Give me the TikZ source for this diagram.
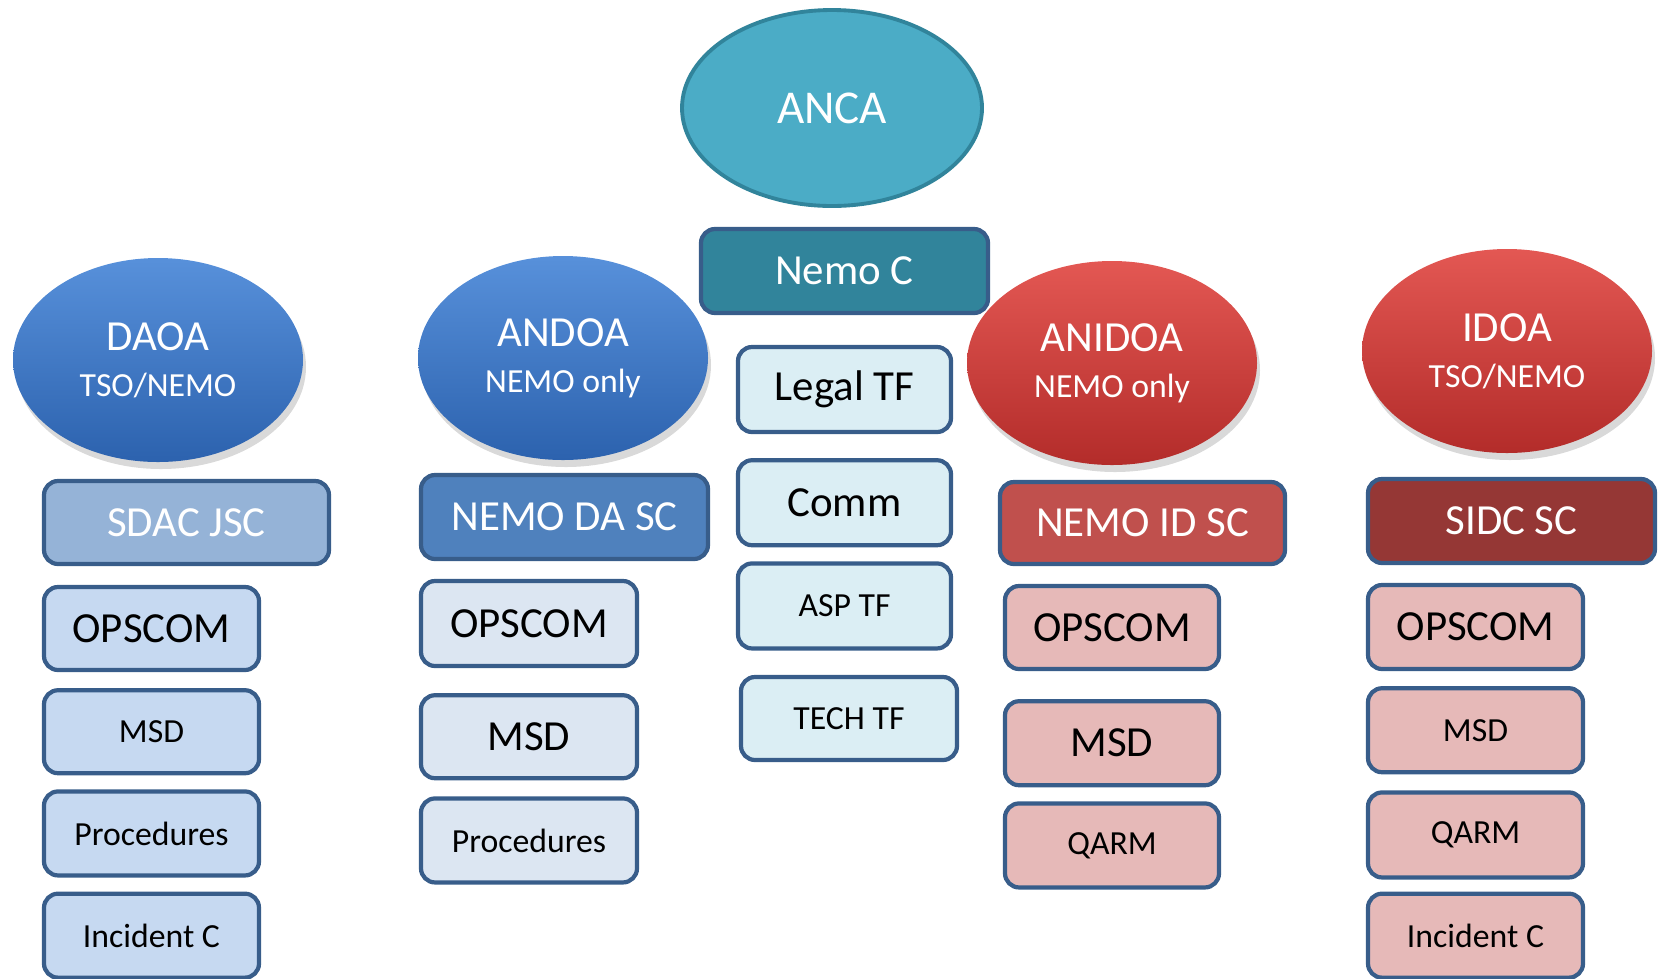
\documentclass[tikz,border=0pt]{standalone}
\usepackage{fontspec}
\setmainfont{Carlito}
\usepackage{tikz}
\usetikzlibrary{shapes.geometric,positioning,shadows}

\definecolor{ancafill}{HTML}{4BACC6}
\definecolor{ancaline}{HTML}{31849B}
\definecolor{frameblue}{HTML}{385D8A}
\definecolor{blueoval}{HTML}{3A7DD4}
\definecolor{bluedark}{HTML}{2C62AE}
\definecolor{redoval}{HTML}{E04540}
\definecolor{reddark}{HTML}{B32C2A}
\definecolor{sdacfill}{HTML}{95B3D7}
\definecolor{ndafill}{HTML}{4F81BD}
\definecolor{nidfill}{HTML}{C0504D}
\definecolor{sidcfill}{HTML}{953735}
\definecolor{daofill}{HTML}{C6D9F1}
\definecolor{andfill}{HTML}{DCE6F2}
\definecolor{tffill}{HTML}{DBEEF4}
\definecolor{idfill}{HTML}{E6B9B8}

\begin{document}
\begin{tikzpicture}[
    bigtxt/.style={font=\fontsize{12.2}{14}\selectfont},
    smalltxt/.style={font=\fontsize{9.6}{11.5}\selectfont},
    areaoval/.style={ellipse, minimum width=2.90cm, minimum height=2.04cm, align=center, text=white, inner sep=0pt,
        drop shadow={shadow xshift=0.3mm, shadow yshift=-0.7mm, opacity=0.3}, font=\fontsize{12.2}{14}\selectfont},
    blueoval/.style={areaoval, top color=blueoval!85!white, bottom color=bluedark},
    redoval/.style={areaoval, top color=redoval!90!white, bottom color=reddark},
    scbox/.style={draw=frameblue, rounded corners=4pt, line width=1.2pt, minimum width=2.87cm, minimum height=0.84cm, text=white, bigtxt},
    itembox/.style={draw=frameblue, rounded corners=4pt, line width=1.2pt, minimum width=2.16cm, minimum height=0.84cm, text=black}
]
\useasboundingbox (0,0) rectangle (16.6,-9.78);

% ANCA and Nemo C
\node[ellipse, draw=ancaline, line width=1.1pt, fill=ancafill, minimum width=3.00cm, minimum height=1.96cm, text=white, font=\fontsize{13.4}{15}\selectfont] (anca) at (8.32,-1.08) {ANCA};
\node[scbox, fill=ancaline] (nemoc) at (8.445,-2.71) {Nemo C};
\node[itembox, fill=tffill, minimum width=2.13cm, minimum height=0.85cm, bigtxt] (legal) at (8.445,-3.895) {Legal TF};
\node[itembox, fill=tffill, minimum width=2.13cm, minimum height=0.85cm, bigtxt, below=0.24cm of legal] (comm) {Comm};
\node[itembox, fill=tffill, minimum width=2.13cm, minimum height=0.85cm, smalltxt, below=0.14cm of comm] (asp) {ASP TF};
\node[itembox, fill=tffill, minimum height=0.83cm, smalltxt] (tech) at (8.49,-7.185) {TECH TF};

% DAOA
\node[blueoval] (daoa) at (1.58,-3.60) {DAOA\\[-1pt]{\fontsize{9.6}{11.5}\selectfont TSO/NEMO}};
\node[scbox, fill=sdacfill, minimum width=2.85cm, minimum height=0.83cm] (sdac) at (1.865,-5.225) {SDAC JSC};
\node[itembox, fill=daofill, minimum width=2.15cm, minimum height=0.83cm, bigtxt] (dops) at (1.515,-6.285) {OPSCOM};
\node[itembox, fill=daofill, minimum width=2.15cm, minimum height=0.83cm, smalltxt, below=0.16cm of dops] (dmsd) {MSD};
\node[itembox, fill=daofill, minimum width=2.15cm, minimum height=0.84cm, smalltxt, below=0.14cm of dmsd] (dproc) {Procedures};
\node[itembox, fill=daofill, minimum width=2.15cm, minimum height=0.84cm, smalltxt, below=0.14cm of dproc] (dinc) {Incident C};

% ANDOA
\node[blueoval] (andoa) at (5.63,-3.58) {ANDOA\\[-1pt]{\fontsize{9.6}{11.5}\selectfont NEMO only}};
\node[scbox, fill=ndafill] (ndasc) at (5.645,-5.17) {NEMO DA SC};
\node[itembox, fill=andfill, minimum height=0.85cm, bigtxt] (aops) at (5.29,-6.235) {OPSCOM};
\node[itembox, fill=andfill, minimum height=0.83cm, bigtxt, below=0.25cm of aops] (amsd) {MSD};
\node[itembox, fill=andfill, smalltxt, below=0.16cm of amsd] (aproc) {Procedures};

% ANIDOA
\node[redoval] (anidoa) at (11.12,-3.63) {ANIDOA\\[-1pt]{\fontsize{9.6}{11.5}\selectfont NEMO only}};
\node[scbox, fill=nidfill, minimum width=2.85cm, minimum height=0.82cm] (nidsc) at (11.425,-5.23) {NEMO ID SC};
\node[itembox, fill=idfill, minimum width=2.14cm, minimum height=0.83cm, bigtxt] (nops) at (11.12,-6.275) {OPSCOM};
\node[itembox, fill=idfill, minimum width=2.14cm, bigtxt, below=0.28cm of nops] (nmsd) {MSD};
\node[itembox, fill=idfill, minimum width=2.14cm, smalltxt, below=0.14cm of nmsd] (nqarm) {QARM};

% IDOA
\node[redoval] (idoa) at (15.07,-3.51) {IDOA\\[-1pt]{\fontsize{9.6}{11.5}\selectfont TSO/NEMO}};
\node[scbox, fill=sidcfill] (sidc) at (15.115,-5.21) {SIDC SC};
\node[itembox, fill=idfill, minimum width=2.15cm, bigtxt] (iops) at (14.755,-6.27) {OPSCOM};
\node[itembox, fill=idfill, minimum width=2.15cm, smalltxt, below=0.15cm of iops] (imsd) {MSD};
\node[itembox, fill=idfill, minimum width=2.15cm, minimum height=0.85cm, smalltxt, below=0.16cm of imsd] (iqarm) {QARM};
\node[itembox, fill=idfill, minimum width=2.15cm, smalltxt, below=0.12cm of iqarm] (iinc) {Incident C};

\end{tikzpicture}
\end{document}
